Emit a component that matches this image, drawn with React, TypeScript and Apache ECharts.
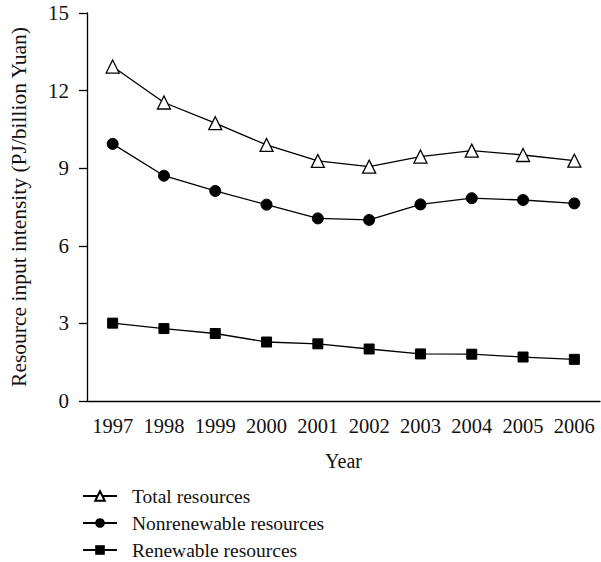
import React, { useEffect, useRef } from "react";
import * as echarts from "echarts";

const years = ["1997", "1998", "1999", "2000", "2001", "2002", "2003", "2004", "2005", "2006"];
const totalResources = [12.93, 11.54, 10.74, 9.9, 9.28, 9.06, 9.45, 9.68, 9.51, 9.29];
const nonrenewableResources = [9.94, 8.71, 8.12, 7.59, 7.06, 7.0, 7.6, 7.84, 7.77, 7.64];
const renewableResources = [3.01, 2.8, 2.61, 2.28, 2.21, 2.01, 1.82, 1.81, 1.7, 1.61];
const yTicks = [0, 3, 6, 9, 12, 15];

const FONT = "'Liberation Serif', 'Times New Roman', serif";

export default function App() {
  const ref = useRef<HTMLDivElement>(null);
  useEffect(() => {
    if (!ref.current) return;
    const chart = echarts.init(ref.current, undefined, { renderer: "svg" });
    const lineStyle = { color: "#000", width: 1.3 };
    chart.setOption({
      animation: false,
      backgroundColor: "#fff",
      textStyle: { fontFamily: FONT, color: "#111" },
      grid: { left: 82, right: 1, top: 13, bottom: 161, containLabel: false },
      legend: {
        orient: "vertical",
        left: 82,
        top: 486,
        height: 120,
        padding: 0,
        itemWidth: 34,
        itemHeight: 12,
        itemGap: 7,
        textStyle: { fontFamily: FONT, fontSize: 19.5, color: "#111", padding: [0, 0, 0, 10] },
        data: ["Total resources", "Nonrenewable resources", "Renewable resources"],
      },
      xAxis: {
        type: "category",
        data: years,
        boundaryGap: true,
        name: "Year",
        nameLocation: "middle",
        nameGap: 50,
        nameTextStyle: { fontFamily: FONT, fontSize: 20, color: "#111" },
        axisLine: { lineStyle: { color: "#000", width: 1.3 } },
        axisTick: { alignWithLabel: true, interval: 0, length: 8, lineStyle: { color: "#000", width: 1.3 } },
        axisLabel: { fontFamily: FONT, fontSize: 20.5, color: "#111", margin: 14, interval: 0, hideOverlap: false },
        splitLine: { show: false },
      },
      yAxis: {
        type: "value",
        min: yTicks[0],
        max: yTicks[yTicks.length - 1],
        interval: 3,
        name: "Resource input intensity (PJ/billion Yuan)",
        nameLocation: "middle",
        nameRotate: 90,
        nameGap: 57,
        nameTextStyle: { fontFamily: FONT, fontSize: 21.5, color: "#111" },
        axisLine: { show: true, lineStyle: { color: "#000", width: 1.3 } },
        axisTick: { show: true, length: 8, lineStyle: { color: "#000", width: 1.3 } },
        axisLabel: { fontFamily: FONT, fontSize: 21, color: "#111", margin: 18 },
        splitLine: { show: false },
      },
      series: [
        {
          name: "Total resources",
          type: "line",
          data: totalResources,
          symbol: "triangle",
          symbolSize: 13,
          lineStyle,
          itemStyle: { color: "#fff", borderColor: "#000", borderWidth: 1.3 },
        },
        {
          name: "Nonrenewable resources",
          type: "line",
          data: nonrenewableResources,
          symbol: "circle",
          symbolSize: 11,
          lineStyle,
          itemStyle: { color: "#000", borderColor: "#000" },
        },
        {
          name: "Renewable resources",
          type: "line",
          data: renewableResources,
          symbol: "rect",
          symbolSize: 10,
          lineStyle,
          itemStyle: { color: "#000", borderColor: "#000" },
        },
      ],
    });
    return () => chart.dispose();
  }, []);
  return <div ref={ref} style={{ width: 601, height: 562, position: "absolute", left: 0, top: 0 }} />;
}
